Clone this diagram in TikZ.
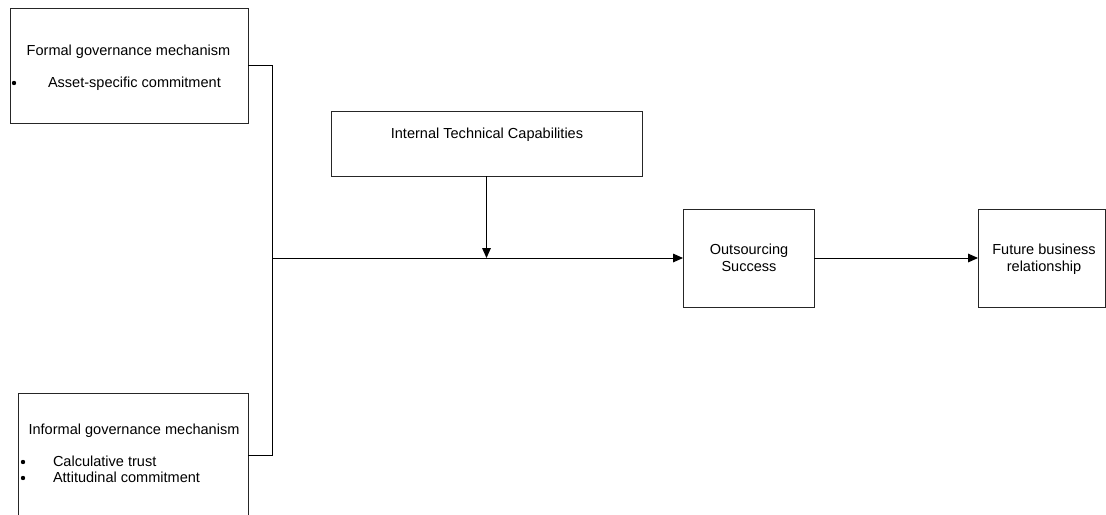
\documentclass[tikz,border=0pt]{standalone}
\usepackage{fontspec}
\setmainfont{Liberation Sans}
\usetikzlibrary{arrows.meta}
\begin{document}
\begin{tikzpicture}[x=0.75pt,y=-0.75pt,
  box/.style={draw=black!85,line width=0.75pt,rectangle,inner sep=0pt,outer sep=0pt},
  txt/.style={inner sep=0pt,outer sep=0pt,font=\fontsize{10.9}{13}\selectfont},
  dot/.style={circle,fill=black,inner sep=0pt,minimum size=3.3pt},
  conn/.style={draw=black,line width=0.75pt},
  arr/.style={conn,-{Triangle[length=7.5pt,width=6.5pt]}}]
\useasboundingbox (0,0) rectangle (1106,514);
\clip (0,0) rectangle (1106,514);
% boxes
\node[box,minimum width=178.5pt,minimum height=86.25pt] (formal) at (129,65.5) {};
\node[box,minimum width=172.5pt,minimum height=93pt] (informal) at (133,455) {};
\node[box,minimum width=233.25pt,minimum height=48.75pt] (itc) at (486.5,143.5) {};
\node[box,minimum width=98.25pt,minimum height=73.5pt] (out) at (748.5,258) {};
\node[box,minimum width=95.6pt,minimum height=73.5pt] (fut) at (1041.75,258) {};
% texts
\node[txt,anchor=base] (t1) at (128.5,55) {Formal governance mechanism};
\node[dot] (d1) at (14,83) {};
\node[txt,anchor=base west] (t1a) at (48,87) {Asset-specific commitment};
\node[txt,anchor=base] (t2) at (134,434) {Informal governance mechanism};
\node[dot] (d2) at (23,462) {};
\node[txt,anchor=base west] (t2a) at (53,466) {Calculative trust};
\node[dot] (d3) at (23,478) {};
\node[txt,anchor=base west] (t2b) at (53,482) {Attitudinal commitment};
\node[txt,anchor=base] (t3) at (487,138) {Internal Technical Capabilities};
\node[txt,anchor=base] (t4a) at (749,254) {Outsourcing};
\node[txt,anchor=base] (t4b) at (749,271) {Success};
\node[txt,anchor=base] (t5a) at (1044,254) {Future business};
\node[txt,anchor=base] (t5b) at (1044,271) {relationship};
% connectors
\coordinate (J) at (272,258);
\draw[conn] (formal.east) -- (formal.east -| J) -- (informal.east -| J) -- (informal.east);
\draw[arr] (J) -- (out.west);
\draw[arr] (itc.south) -- (itc.south |- J);
\draw[arr] (out.east) -- (fut.west);
\end{tikzpicture}
\end{document}
